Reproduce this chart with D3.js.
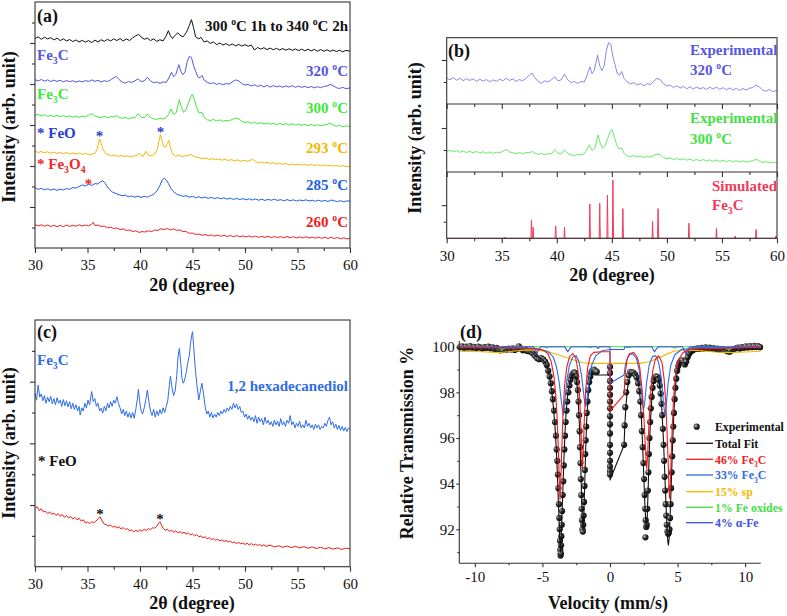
<!DOCTYPE html>
<html>
<head>
<meta charset="utf-8">
<script src="https://cdn.jsdelivr.net/npm/d3@7"></script>
<style>
  body { margin: 0; background: #fff; }
  svg { display: block; }
  text { font-family: "Liberation Serif", "Tinos", "Times New Roman", Times, "DejaVu Serif", serif; }
</style>
</head>
<body>
<div id="chart"></div>
<script>
// ---- XRD patterns, panel (a) units (stacked offsets), 2theta in degrees ----
var xrd340 = [[30,10.22],[30.3,10.3],[30.6,10.18],[30.9,10.28],[31.2,10.2],[31.5,10.26],[31.8,10.15],[32.1,10.24],[32.4,10.12],[32.7,10.2],[33.0,10.1],[33.3,10.17],[33.6,10.07],[33.9,10.15],[34.2,10.05],[34.5,10.13],[34.8,10.04],[35.1,10.12],[35.4,10.02],[35.7,10.14],[36.0,10.05],[36.3,10.16],[36.6,10.08],[36.9,10.18],[37.2,10.1],[37.5,10.2],[37.8,10.12],[38.1,10.22],[38.4,10.1],[38.7,10.2],[39.0,10.12],[39.3,10.25],[39.6,10.35],[39.85,10.42],[40.1,10.3],[40.4,10.18],[40.7,10.24],[41.0,10.12],[41.3,10.2],[41.6,10.08],[41.9,10.16],[42.2,10.1],[42.5,10.35],[42.7,10.6],[42.9,10.35],[43.1,10.22],[43.3,10.35],[43.6,10.5],[43.8,10.38],[44.1,10.3],[44.4,10.5],[44.7,10.85],[44.9,11.14],[45.1,10.75],[45.3,10.3],[45.6,10.2],[45.8,10.28],[46.1,10.05],[46.4,10.1],[46.7,9.98],[47.0,10.05],[47.3,9.92],[47.6,10.0],[47.9,9.9],[48.2,9.97],[48.5,9.88],[48.8,9.95],[49.1,9.86],[49.4,9.93],[49.7,9.85],[50.0,9.92],[50.3,9.84],[50.6,9.9],[50.9,9.66],[51.2,9.78],[51.5,9.7],[51.8,9.77],[52.1,9.68],[52.4,9.75],[52.7,9.67],[53.0,9.74],[53.3,9.66],[53.6,9.73],[53.9,9.65],[54.2,9.72],[54.5,9.64],[54.8,9.71],[55.1,9.63],[55.4,9.7],[55.7,9.62],[56.0,9.7],[56.3,9.61],[56.6,9.69],[56.9,9.6],[57.2,9.68],[57.5,9.6],[57.8,9.67],[58.1,9.59],[58.4,9.66],[58.7,9.58],[59.0,9.65],[59.3,9.57],[59.6,9.64],[60,9.6]];

var xrd320 = [[30,8.21],[30.3,8.15],[30.6,8.22],[30.9,8.14],[31.2,8.2],[31.5,8.12],[31.8,8.19],[32.1,8.13],[32.4,8.18],[32.7,8.1],[33.0,8.17],[33.3,8.11],[33.6,8.16],[33.9,8.09],[34.2,8.15],[34.5,8.1],[34.8,8.17],[35.1,8.12],[35.4,8.2],[35.7,8.13],[36.0,8.18],[36.3,8.1],[36.6,8.16],[36.9,8.12],[37.2,8.2],[37.5,8.3],[37.75,8.37],[38.0,8.22],[38.3,8.1],[38.6,8.04],[38.9,8.12],[39.2,8.08],[39.5,8.15],[39.8,8.25],[40.1,8.12],[40.4,8.15],[40.7,8.33],[41.0,8.15],[41.3,8.06],[41.6,8.1],[41.9,8.03],[42.2,8.1],[42.5,8.08],[42.75,8.3],[43.0,8.57],[43.2,8.35],[43.4,8.45],[43.7,8.94],[43.9,8.6],[44.1,8.45],[44.3,8.6],[44.5,9.1],[44.7,9.35],[44.9,9.3],[45.1,8.9],[45.3,8.62],[45.5,8.35],[45.7,8.3],[45.9,8.42],[46.1,8.2],[46.4,8.08],[46.7,8.02],[47.0,8.06],[47.3,7.98],[47.6,8.03],[47.9,7.96],[48.2,8.02],[48.5,8.0],[48.8,8.1],[49.1,8.2],[49.4,8.15],[49.7,8.02],[50.0,7.95],[50.3,7.98],[50.6,7.9],[50.9,7.96],[51.2,7.88],[51.5,7.94],[51.8,7.86],[52.1,7.93],[52.4,7.85],[52.7,7.92],[53.0,7.86],[53.3,7.9],[53.6,7.84],[53.9,7.91],[54.2,7.85],[54.5,7.92],[54.8,7.84],[55.1,7.9],[55.4,7.83],[55.7,7.89],[56.0,7.82],[56.3,7.88],[56.6,7.81],[56.9,7.87],[57.2,7.82],[57.5,7.88],[57.8,7.9],[58.1,7.98],[58.4,7.92],[58.7,7.82],[59.0,7.78],[59.3,7.84],[59.6,7.77],[60,7.81]];

var xrd300 = [[30,6.46],[30.3,6.52],[30.6,6.44],[30.9,6.5],[31.2,6.42],[31.5,6.48],[31.8,6.41],[32.1,6.47],[32.4,6.4],[32.7,6.46],[33.0,6.39],[33.3,6.45],[33.6,6.38],[33.9,6.44],[34.2,6.37],[34.5,6.43],[34.8,6.4],[35.1,6.47],[35.4,6.56],[35.7,6.44],[36.0,6.4],[36.3,6.36],[36.6,6.42],[36.9,6.35],[37.2,6.41],[37.5,6.4],[37.75,6.46],[38.0,6.38],[38.3,6.33],[38.6,6.37],[38.9,6.3],[39.2,6.36],[39.5,6.34],[39.8,6.55],[40.1,6.38],[40.4,6.35],[40.7,6.54],[41.0,6.36],[41.3,6.3],[41.6,6.27],[41.9,6.33],[42.2,6.29],[42.5,6.36],[42.75,6.55],[42.95,6.78],[43.2,6.52],[43.45,6.6],[43.75,7.24],[43.95,6.85],[44.15,6.62],[44.35,6.7],[44.6,7.05],[44.85,7.4],[45.0,7.51],[45.2,7.2],[45.4,6.85],[45.6,6.6],[45.9,6.62],[46.1,6.38],[46.4,6.25],[46.7,6.22],[47.0,6.27],[47.3,6.2],[47.6,6.25],[47.9,6.18],[48.2,6.22],[48.5,6.2],[48.8,6.28],[49.1,6.34],[49.4,6.3],[49.7,6.18],[50.0,6.12],[50.3,6.16],[50.6,6.08],[50.9,6.13],[51.2,6.06],[51.5,6.12],[51.8,6.05],[52.1,6.1],[52.4,6.03],[52.7,6.09],[53.0,6.02],[53.3,6.08],[53.6,6.01],[53.9,6.07],[54.2,6.0],[54.5,6.06],[54.8,5.99],[55.1,6.05],[55.4,5.98],[55.7,6.04],[56.0,5.97],[56.3,6.03],[56.6,5.96],[56.9,6.02],[57.2,5.96],[57.5,6.0],[57.8,6.02],[58.1,6.1],[58.4,6.0],[58.7,5.94],[59.0,5.98],[59.3,5.92],[59.6,5.96],[60,5.93]];

var xrd293 = [[30,4.72],[30.3,4.66],[30.6,4.71],[30.9,4.64],[31.2,4.69],[31.5,4.62],[31.8,4.68],[32.1,4.61],[32.4,4.67],[32.7,4.6],[33.0,4.66],[33.3,4.59],[33.6,4.64],[33.9,4.58],[34.2,4.63],[34.5,4.57],[34.8,4.62],[35.1,4.55],[35.4,4.58],[35.7,4.62],[35.9,4.8],[36.05,5.15],[36.15,5.32],[36.3,5.1],[36.45,4.85],[36.7,4.62],[37.0,4.55],[37.3,4.5],[37.6,4.54],[37.9,4.47],[38.2,4.52],[38.5,4.46],[38.8,4.5],[39.1,4.44],[39.4,4.49],[39.7,4.5],[39.9,4.63],[40.1,4.52],[40.3,4.47],[40.55,4.72],[40.8,4.52],[41.1,4.5],[41.4,4.58],[41.65,4.8],[41.8,5.2],[41.95,5.53],[42.1,5.25],[42.25,4.95],[42.45,4.92],[42.6,5.1],[42.75,5.25],[42.9,4.9],[43.1,4.6],[43.4,4.47],[43.7,4.54],[44.0,4.46],[44.3,4.5],[44.6,4.52],[44.85,4.57],[45.1,4.48],[45.4,4.43],[45.7,4.4],[46.0,4.35],[46.3,4.38],[46.6,4.32],[46.9,4.36],[47.2,4.3],[47.5,4.34],[47.8,4.28],[48.1,4.33],[48.4,4.27],[48.7,4.31],[49.0,4.25],[49.3,4.3],[49.6,4.24],[49.9,4.28],[50.2,4.23],[50.5,4.27],[50.7,4.33],[50.9,4.27],[51.2,4.16],[51.5,4.2],[51.8,4.14],[52.1,4.18],[52.4,4.12],[52.7,4.16],[53.0,4.1],[53.3,4.14],[53.6,4.08],[53.9,4.12],[54.2,4.06],[54.5,4.1],[54.8,4.05],[55.1,4.09],[55.4,4.04],[55.7,4.08],[56.0,4.03],[56.3,4.07],[56.6,4.02],[56.9,4.06],[57.2,4.01],[57.5,4.05],[57.8,4.0],[58.1,4.04],[58.4,3.99],[58.7,4.03],[59.0,3.98],[59.3,4.02],[59.6,3.97],[60,3.99]];

var xrd285 = [[30,2.93],[30.3,2.86],[30.6,2.91],[30.9,2.84],[31.2,2.89],[31.5,2.82],[31.8,2.88],[32.1,2.81],[32.4,2.87],[32.7,2.83],[33.0,2.9],[33.3,2.86],[33.6,2.95],[33.9,2.92],[34.2,3.0],[34.5,3.08],[34.8,3.02],[35.1,3.12],[35.4,3.05],[35.7,3.14],[36.0,3.12],[36.2,3.22],[36.45,3.28],[36.7,3.15],[36.9,2.98],[37.1,2.85],[37.4,2.72],[37.7,2.66],[38.0,2.6],[38.3,2.55],[38.6,2.58],[38.9,2.5],[39.2,2.54],[39.5,2.48],[39.8,2.53],[40.1,2.47],[40.4,2.52],[40.7,2.48],[41.0,2.55],[41.3,2.62],[41.6,2.78],[41.9,3.05],[42.1,3.3],[42.3,3.41],[42.5,3.32],[42.7,3.15],[42.95,2.9],[43.2,2.75],[43.5,2.63],[43.8,2.57],[44.1,2.52],[44.4,2.55],[44.7,2.48],[45.0,2.52],[45.3,2.45],[45.6,2.5],[45.9,2.44],[46.2,2.48],[46.5,2.42],[46.8,2.47],[47.1,2.41],[47.4,2.46],[47.7,2.4],[48.0,2.45],[48.3,2.38],[48.6,2.43],[48.9,2.37],[49.2,2.42],[49.5,2.36],[49.8,2.41],[50.1,2.35],[50.4,2.4],[50.7,2.34],[51.0,2.39],[51.3,2.33],[51.6,2.38],[51.9,2.32],[52.2,2.37],[52.5,2.33],[52.8,2.38],[53.1,2.32],[53.4,2.36],[53.7,2.3],[54.0,2.36],[54.3,2.31],[54.6,2.35],[54.9,2.29],[55.2,2.34],[55.5,2.3],[55.8,2.35],[56.1,2.29],[56.4,2.33],[56.7,2.28],[57.0,2.33],[57.3,2.28],[57.6,2.32],[57.9,2.27],[58.2,2.34],[58.5,2.3],[58.8,2.26],[59.1,2.31],[59.4,2.25],[59.7,2.3],[60,2.28]];

var xrd260 = [[30,1.14],[30.3,1.08],[30.6,1.13],[30.9,1.06],[31.2,1.12],[31.5,1.05],[31.8,1.11],[32.1,1.04],[32.4,1.1],[32.7,1.04],[33.0,1.12],[33.3,1.05],[33.6,1.11],[33.9,1.06],[34.2,1.13],[34.5,1.07],[34.8,1.12],[35.1,1.08],[35.4,1.16],[35.55,1.25],[35.7,1.1],[36.0,1.12],[36.3,1.05],[36.6,1.07],[36.9,0.99],[37.2,1.02],[37.5,0.95],[37.8,0.98],[38.1,0.9],[38.4,0.93],[38.7,0.85],[39.0,0.88],[39.3,0.8],[39.6,0.84],[39.9,0.76],[40.2,0.8],[40.5,0.78],[40.8,0.84],[41.1,0.8],[41.4,0.88],[41.7,0.86],[42.0,0.94],[42.3,0.9],[42.6,0.95],[42.9,0.88],[43.2,0.93],[43.5,0.86],[43.8,0.88],[44.1,0.8],[44.4,0.8],[44.7,0.72],[45.0,0.73],[45.3,0.66],[45.6,0.68],[45.9,0.62],[46.2,0.66],[46.5,0.6],[46.8,0.64],[47.1,0.58],[47.4,0.63],[47.7,0.57],[48.0,0.62],[48.3,0.56],[48.6,0.61],[48.9,0.55],[49.2,0.6],[49.5,0.55],[49.8,0.59],[50.1,0.54],[50.4,0.59],[50.7,0.53],[51.0,0.58],[51.3,0.52],[51.6,0.57],[51.9,0.52],[52.2,0.57],[52.5,0.51],[52.8,0.56],[53.1,0.51],[53.4,0.55],[53.7,0.5],[54.0,0.56],[54.3,0.5],[54.6,0.55],[54.9,0.49],[55.2,0.54],[55.5,0.49],[55.8,0.55],[56.1,0.49],[56.4,0.53],[56.7,0.48],[57.0,0.53],[57.3,0.47],[57.6,0.52],[57.9,0.47],[58.2,0.52],[58.5,0.46],[58.8,0.51],[59.1,0.45],[59.4,0.5],[59.7,0.44],[60,0.47]];

// simulated Fe3C reflections: [2theta, relative intensity]
var simFe3C = [[35.3,2],[37.7,31],[37.85,19],[39.9,21],[40.7,19],[43.0,59],[43.9,60],[44.6,74],[45.1,100],[46.0,51],[48.7,29],[49.2,51],[52.0,26],[54.5,17],[56.2,4],[58.1,15],[59.9,4]];

// panel (c): 1,2 hexadecanediol (blue) and reference (red)
var xrdHexa = [[30,5.62],[30.15,5.4],[30.3,5.89],[30.45,5.5],[30.6,5.6],[30.75,5.38],[30.9,5.55],[31.05,5.3],[31.2,5.5],[31.35,5.35],[31.5,5.52],[31.65,5.28],[31.8,5.45],[31.95,5.25],[32.1,5.48],[32.25,5.3],[32.4,5.4],[32.55,5.2],[32.7,5.42],[32.85,5.22],[33.0,5.38],[33.15,5.18],[33.3,5.35],[33.45,5.12],[33.6,5.3],[33.75,5.1],[33.9,5.25],[34.05,5.05],[34.2,5.2],[34.3,4.92],[34.45,5.15],[34.6,5.05],[34.75,5.3],[34.9,5.15],[35.05,5.4],[35.2,5.25],[35.4,5.68],[35.55,5.35],[35.7,5.45],[35.85,5.2],[36.0,5.3],[36.15,5.05],[36.3,5.14],[36.45,4.98],[36.6,5.2],[36.75,5.05],[36.9,5.3],[37.05,5.15],[37.2,5.35],[37.35,5.2],[37.5,5.4],[37.65,5.3],[37.8,5.51],[37.95,5.3],[38.1,5.15],[38.25,4.95],[38.4,5.1],[38.55,4.9],[38.7,5.05],[38.85,4.85],[39.0,5.0],[39.15,4.82],[39.3,5.0],[39.45,4.81],[39.6,5.1],[39.75,5.45],[39.85,5.75],[39.95,5.4],[40.1,5.05],[40.25,4.95],[40.4,5.15],[40.55,5.4],[40.7,5.73],[40.85,5.35],[41.0,5.05],[41.15,4.9],[41.3,5.1],[41.45,4.85],[41.6,5.05],[41.75,4.9],[41.9,5.1],[42.05,4.95],[42.2,5.15],[42.35,5.0],[42.5,5.19],[42.65,5.4],[42.8,5.9],[42.9,6.18],[43.05,5.8],[43.2,5.55],[43.35,5.7],[43.5,6.2],[43.62,6.8],[43.75,7.08],[43.88,6.6],[44.0,6.1],[44.12,5.95],[44.25,6.05],[44.4,6.3],[44.55,6.6],[44.7,6.86],[44.8,7.2],[44.9,7.45],[45.0,7.62],[45.1,7.2],[45.2,6.7],[45.3,6.3],[45.45,5.8],[45.6,5.41],[45.75,5.7],[45.9,5.95],[46.05,5.6],[46.2,5.2],[46.35,4.95],[46.5,5.05],[46.65,4.85],[46.8,5.0],[46.95,4.82],[47.1,4.95],[47.25,4.85],[47.4,5.0],[47.55,4.9],[47.7,5.05],[47.85,4.95],[48.0,5.1],[48.15,5.0],[48.3,5.15],[48.45,5.05],[48.6,5.2],[48.75,5.1],[48.9,5.3],[49.05,5.15],[49.2,5.28],[49.35,5.1],[49.5,5.2],[49.65,5.0],[49.8,5.05],[49.95,4.85],[50.1,4.95],[50.25,4.78],[50.4,4.9],[50.55,4.75],[50.7,4.85],[50.85,4.7],[51.0,4.9],[51.15,4.65],[51.3,4.85],[51.45,4.7],[51.6,4.8],[51.75,4.6],[51.9,4.85],[52.05,4.65],[52.2,4.75],[52.35,4.6],[52.5,4.7],[52.65,4.55],[52.8,4.75],[52.95,4.6],[53.1,4.72],[53.25,4.55],[53.4,4.8],[53.55,4.6],[53.7,4.7],[53.85,4.55],[54.0,4.75],[54.15,4.65],[54.3,4.9],[54.45,4.6],[54.6,4.7],[54.75,4.5],[54.9,4.65],[55.05,4.55],[55.2,4.72],[55.35,4.5],[55.5,4.6],[55.65,4.5],[55.8,4.75],[55.95,4.55],[56.1,4.65],[56.25,4.5],[56.4,4.6],[56.55,4.45],[56.7,4.62],[56.85,4.5],[57.0,4.6],[57.15,4.45],[57.3,4.55],[57.45,4.5],[57.6,4.65],[57.75,4.55],[57.9,4.75],[58.05,4.85],[58.2,4.6],[58.35,4.7],[58.5,4.5],[58.65,4.62],[58.8,4.45],[58.95,4.58],[59.1,4.42],[59.25,4.55],[59.4,4.4],[59.55,4.52],[59.7,4.38],[59.85,4.5],[60,4.45]];

var xrdRef = [[30,1.89],[30.2,1.95],[30.4,1.82],[30.6,1.88],[30.8,1.78],[31.0,1.8],[31.2,1.72],[31.4,1.78],[31.6,1.7],[31.8,1.74],[32.0,1.66],[32.2,1.72],[32.4,1.64],[32.6,1.69],[32.8,1.6],[33.0,1.66],[33.2,1.58],[33.4,1.63],[33.6,1.55],[33.8,1.6],[34.0,1.52],[34.2,1.57],[34.4,1.48],[34.6,1.52],[34.8,1.42],[35.0,1.45],[35.2,1.4],[35.4,1.46],[35.6,1.42],[35.8,1.48],[36.0,1.55],[36.2,1.62],[36.4,1.48],[36.6,1.38],[36.8,1.36],[37.0,1.32],[37.2,1.35],[37.4,1.28],[37.6,1.32],[37.8,1.25],[38.0,1.3],[38.2,1.22],[38.4,1.27],[38.6,1.2],[38.8,1.24],[39.0,1.16],[39.2,1.2],[39.4,1.13],[39.6,1.18],[39.8,1.14],[40.0,1.2],[40.2,1.15],[40.4,1.22],[40.6,1.17],[40.8,1.24],[41.0,1.2],[41.2,1.26],[41.4,1.25],[41.6,1.32],[41.8,1.42],[41.9,1.46],[42.05,1.35],[42.2,1.25],[42.4,1.18],[42.6,1.22],[42.8,1.15],[43.0,1.18],[43.2,1.12],[43.4,1.16],[43.6,1.1],[43.8,1.14],[44.0,1.08],[44.2,1.12],[44.4,1.06],[44.6,1.1],[44.8,1.03],[45.0,1.06],[45.2,1.0],[45.4,1.04],[45.6,0.97],[45.8,1.0],[46.0,0.94],[46.2,0.97],[46.4,0.91],[46.6,0.94],[46.8,0.88],[47.0,0.91],[47.2,0.86],[47.4,0.89],[47.6,0.84],[47.8,0.87],[48.0,0.82],[48.2,0.85],[48.4,0.8],[48.6,0.83],[48.8,0.78],[49.0,0.8],[49.2,0.75],[49.4,0.79],[49.6,0.74],[49.8,0.77],[50.0,0.72],[50.2,0.76],[50.4,0.71],[50.6,0.75],[50.8,0.7],[51.0,0.73],[51.2,0.69],[51.4,0.72],[51.6,0.67],[51.8,0.71],[52.0,0.66],[52.4,0.7],[52.8,0.64],[53.2,0.68],[53.6,0.63],[54.0,0.67],[54.4,0.62],[54.8,0.66],[55.2,0.61],[55.6,0.65],[56.0,0.6],[56.4,0.64],[56.8,0.59],[57.2,0.63],[57.6,0.58],[58.0,0.62],[58.4,0.57],[58.8,0.61],[59.2,0.56],[59.6,0.6],[60,0.58]];

// ---- Mossbauer, panel (d): [velocity mm/s, relative transmission %] ----
var mossExp = [[-11.1,99.98],[-10.95,100.02],[-10.8,99.95],[-10.65,100.0],[-10.5,99.97],[-10.35,100.03],[-10.2,99.96],[-10.05,99.99],[-9.9,99.94],[-9.75,100.01],[-9.6,99.96],[-9.45,99.92],[-9.3,99.98],[-9.15,99.95],[-9.0,100.0],[-8.85,99.93],[-8.7,99.97],[-8.55,99.9],[-8.4,99.95],[-8.25,99.88],[-8.1,99.84],[-7.95,99.86],[-7.8,99.9],[-7.65,99.87],[-7.5,99.92],[-7.35,99.88],[-7.2,99.93],[-7.05,99.86],[-6.9,99.9],[-6.75,100.02],[-6.6,99.92],[-6.45,99.85],[-6.3,99.88],[-6.15,99.82],[-6.0,99.8],[-5.85,99.78],[-5.7,99.7],[-5.55,99.6],[-5.4,99.5],[-5.25,99.45],[-5.1,99.5],[-4.95,99.45],[-4.8,99.35],[-4.68,99.2],[-4.57,98.95],[-4.47,98.7],[-4.38,98.4],[-4.3,98.05],[-4.22,97.7],[-4.14,97.2],[-4.07,96.7],[-4.0,96.1],[-3.95,95.5],[-3.9,95.0],[-3.86,94.4],[-3.82,93.8],[-3.78,93.1],[-3.75,92.5],[-3.72,92.0],[-3.7,91.5],[-3.68,91.1],[-3.66,90.85],[-3.64,90.95],[-3.62,91.3],[-3.6,91.7],[-3.57,92.2],[-3.54,92.8],[-3.5,93.5],[-3.46,94.1],[-3.42,94.8],[-3.38,95.5],[-3.33,96.1],[-3.28,96.7],[-3.22,97.2],[-3.16,97.6],[-3.08,98.0],[-3.0,98.3],[-2.92,98.55],[-2.84,98.72],[-2.75,98.82],[-2.66,98.88],[-2.58,98.85],[-2.5,98.7],[-2.44,98.45],[-2.38,98.1],[-2.33,97.6],[-2.29,97.0],[-2.25,96.3],[-2.22,95.6],[-2.19,94.9],[-2.16,94.2],[-2.13,93.5],[-2.1,92.9],[-2.07,92.4],[-2.04,92.0],[-2.01,91.9],[-1.98,92.2],[-1.95,92.6],[-1.92,93.2],[-1.89,93.9],[-1.86,94.6],[-1.83,95.3],[-1.8,95.9],[-1.76,96.5],[-1.72,97.1],[-1.67,97.6],[-1.61,98.1],[-1.54,98.45],[-1.46,98.7],[-1.38,98.88],[-1.29,98.98],[-1.2,99.0],[-1.1,98.95],[-0.98,98.9],[0,99.12],[0,98.85],[0,98.5],[0,98.2],[0,97.9],[0,97.6],[0,97.3],[0,96.95],[0,96.6],[0,96.2],[0,95.7],[0,95.35],[0,95.0],[0,94.75],[0,94.55],[0,94.4],[1.04,95.7],[1.08,96.55],[1.13,97.35],[1.2,98.0],[1.28,98.45],[1.38,98.75],[1.5,98.9],[1.62,98.88],[1.74,98.85],[1.86,98.78],[1.98,98.65],[2.08,98.4],[2.16,98.05],[2.24,97.6],[2.3,97.0],[2.36,96.3],[2.42,95.6],[2.47,94.9],[2.52,94.2],[2.56,93.5],[2.6,92.9],[2.62,91.65],[2.64,92.4],[2.68,92.1],[2.72,92.2],[2.76,92.9],[2.8,93.7],[2.84,94.5],[2.88,95.3],[2.92,96.0],[2.97,96.7],[3.02,97.3],[3.08,97.8],[3.15,98.2],[3.22,98.5],[3.3,98.65],[3.4,98.7],[3.5,98.68],[3.6,98.55],[3.68,98.3],[3.75,97.95],[3.81,97.5],[3.86,97.0],[3.91,96.4],[3.96,95.7],[4.0,95.0],[4.04,94.3],[4.08,93.7],[4.12,93.1],[4.16,92.6],[4.2,92.2],[4.25,91.9],[4.3,91.8],[4.35,91.85],[4.4,92.0],[4.44,92.5],[4.48,93.1],[4.52,93.8],[4.56,94.5],[4.6,95.2],[4.64,95.9],[4.68,96.5],[4.73,97.1],[4.78,97.7],[4.84,98.2],[4.9,98.6],[4.97,98.95],[5.05,99.15],[5.14,99.3],[5.24,99.38],[5.34,99.4],[5.44,99.3],[5.54,99.22],[5.64,99.35],[5.75,99.55],[5.87,99.7],[6.0,99.8],[6.15,99.86],[6.3,99.9],[6.45,99.93],[6.6,99.9],[6.75,99.95],[6.9,99.92],[7.05,99.97],[7.2,99.93],[7.35,99.96],[7.5,99.9],[7.65,99.94],[7.8,99.9],[7.95,99.92],[8.1,99.88],[8.25,99.9],[8.4,99.86],[8.55,99.84],[8.7,99.8],[8.85,99.78],[9.0,99.84],[9.15,99.9],[9.3,99.93],[9.45,99.96],[9.6,99.92],[9.75,99.98],[9.9,99.95],[10.05,100.02],[10.2,99.97],[10.35,100.03],[10.5,99.98],[10.65,100.04],[10.8,99.99],[10.95,100.03],[11.1,99.98]];

var mossTotal = [[-11.15,99.97],[-9,99.95],[-8.3,99.92],[-8.0,99.86],[-7.7,99.92],[-6.5,99.9],[-6.0,99.85],[-5.7,99.72],[-5.5,99.58],[-5.3,99.55],[-5.0,99.45],[-4.8,99.3],[-4.6,99.0],[-4.45,98.6],[-4.3,98.0],[-4.18,97.3],[-4.07,96.5],[-3.97,95.5],[-3.88,94.2],[-3.8,92.9],[-3.74,91.9],[-3.68,91.0],[-3.62,91.5],[-3.56,92.5],[-3.5,93.5],[-3.42,94.9],[-3.34,96.1],[-3.24,97.2],[-3.12,97.95],[-2.98,98.45],[-2.82,98.72],[-2.66,98.82],[-2.52,98.65],[-2.42,98.2],[-2.34,97.5],[-2.26,96.5],[-2.18,95.1],[-2.11,93.6],[-2.04,92.2],[-2.0,91.95],[-1.94,92.6],[-1.87,94.0],[-1.8,95.5],[-1.72,96.8],[-1.62,97.8],[-1.5,98.45],[-1.36,98.8],[-1.22,98.82],[-1.12,98.76],[0,98.76],[0,94.16],[1.04,95.68],[1.1,96.6],[1.18,97.4],[1.28,98.1],[1.4,98.55],[1.55,98.8],[1.75,98.88],[1.95,98.72],[2.1,98.4],[2.22,97.8],[2.32,96.9],[2.42,95.6],[2.5,94.3],[2.58,93.1],[2.65,92.3],[2.7,92.1],[2.76,92.6],[2.83,93.9],[2.9,95.3],[2.98,96.6],[3.08,97.6],[3.2,98.3],[3.35,98.65],[3.5,98.7],[3.62,98.5],[3.74,98.0],[3.84,97.2],[3.94,96.1],[4.03,94.8],[4.12,93.4],[4.2,92.3],[4.27,91.5],[4.32,91.3],[4.38,91.6],[4.45,92.6],[4.52,93.8],[4.6,95.2],[4.68,96.5],[4.78,97.7],[4.9,98.6],[5.05,99.1],[5.2,99.3],[5.4,99.32],[5.55,99.2],[5.7,99.4],[5.9,99.65],[6.2,99.82],[6.8,99.92],[8.3,99.9],[8.75,99.82],[9.2,99.92],[11.15,99.96]];

var mossFe3C46 = [[-11.15,99.97],[-6,99.93],[-5.0,99.86],[-4.6,99.7],[-4.35,99.35],[-4.15,98.7],[-4.0,97.8],[-3.9,96.7],[-3.82,95.5],[-3.76,94.3],[-3.7,93.3],[-3.64,94.1],[-3.57,95.5],[-3.48,97.0],[-3.36,98.3],[-3.2,99.1],[-3.0,99.55],[-2.75,99.7],[-2.55,99.55],[-2.38,99.0],[-2.26,98.0],[-2.16,96.5],[-2.08,95.2],[-2.04,94.7],[-1.98,95.4],[-1.9,96.8],[-1.8,98.1],[-1.65,99.1],[-1.45,99.6],[-1.2,99.75],[-0.6,99.78],[0,99.78],[0,97.18],[1.04,97.9],[1.12,98.8],[1.25,99.4],[1.45,99.7],[1.75,99.75],[2.0,99.55],[2.2,99.1],[2.36,98.2],[2.5,97.0],[2.6,95.8],[2.68,94.9],[2.72,94.67],[2.78,95.2],[2.88,96.6],[3.0,97.9],[3.15,98.9],[3.35,99.45],[3.6,99.6],[3.85,99.3],[4.0,98.6],[4.12,97.6],[4.22,96.3],[4.3,95.0],[4.36,93.9],[4.4,93.36],[4.45,93.8],[4.52,95.0],[4.6,96.4],[4.7,97.7],[4.85,98.8],[5.05,99.4],[5.4,99.75],[6,99.9],[11.15,99.97]];

var mossFe3C33 = [[-11.15,99.98],[-5.5,99.93],[-4.6,99.8],[-4.2,99.55],[-3.95,99.1],[-3.75,98.4],[-3.6,97.6],[-3.46,97.0],[-3.34,97.6],[-3.2,98.5],[-3.0,99.2],[-2.75,99.55],[-2.5,99.6],[-2.3,99.35],[-2.12,98.8],[-1.98,98.1],[-1.88,97.6],[-1.8,97.37],[-1.7,97.7],[-1.55,98.5],[-1.35,99.2],[-1.05,99.6],[-0.6,99.82],[0,99.88],[0,98.4],[1.04,98.76],[1.15,99.25],[1.35,99.6],[1.65,99.7],[1.95,99.5],[2.15,99.0],[2.3,98.2],[2.4,97.5],[2.47,97.23],[2.56,97.5],[2.7,98.4],[2.9,99.2],[3.15,99.58],[3.4,99.6],[3.6,99.3],[3.78,98.7],[3.92,97.8],[4.0,97.3],[4.07,97.0],[4.16,97.4],[4.3,98.4],[4.5,99.2],[4.8,99.65],[5.3,99.88],[6.5,99.96],[11.15,99.98]];

var mossSp = [[-11.15,99.8],[-9.5,99.78],[-8.2,99.74],[-7.2,99.8],[-6.2,99.86],[-5.2,99.84],[-4.4,99.75],[-3.6,99.6],[-3.0,99.48],[-2.5,99.38],[-2.0,99.3],[-1.4,99.27],[0,99.27],[1.04,99.27],[2.2,99.27],[2.8,99.33],[3.4,99.45],[4.0,99.62],[4.7,99.8],[5.6,99.86],[6.6,99.83],[7.8,99.77],[8.8,99.74],[10,99.77],[11.15,99.8]];

var mossOxides = [[-11.15,100],[-8.4,100],[-8.1,99.9],[-8.0,99.84],[-7.9,99.9],[-7.6,100],[-4.9,100],[-4.7,99.94],[-4.5,100],[-1.6,100],[-1.45,99.95],[-1.3,100],[0,100],[1.04,100],[1.4,99.96],[1.6,100],[4.6,100],[4.8,99.94],[5.0,100],[8.4,100],[8.7,99.9],[8.8,99.84],[8.9,99.9],[9.2,100],[11.15,100]];

var mossAlphaFe = [[-11.15,100],[-5.7,100],[-5.5,99.85],[-5.4,99.7],[-5.3,99.85],[-5.1,100],[-3.35,100],[-3.2,99.85],[-3.12,99.78],[-3.02,99.88],[-2.85,100],[-1.0,100],[-0.88,99.92],[-0.76,100],[0,100],[0,99.88],[1.04,99.88],[1.1,100],[3.1,100],[3.22,99.85],[3.3,99.78],[3.4,99.88],[3.6,100],[5.35,100],[5.5,99.85],[5.6,99.68],[5.72,99.85],[5.9,100],[11.15,100]];

// ticks
var xrdMajor = [30, 35, 40, 45, 50, 55, 60];
var xrdMinor = [32.5, 37.5, 42.5, 47.5, 52.5, 57.5];
var velMajor = [-10, -5, 0, 5, 10];
var velMinor = [-7.5, -2.5, 2.5, 7.5];
var transMajor = [92, 94, 96, 98, 100];
var transMinor = [91, 93, 95, 97, 99];

var axisColor = "#333";
var serif = '"Liberation Serif", "Tinos", "Times New Roman", Times, "DejaVu Serif", serif';

var svg = d3.select("#chart").append("svg")
  .attr("width", 787)
  .attr("height", 616)
  .style("font-family", serif);

var defs = svg.append("defs");
var ball = defs.append("radialGradient").attr("id", "ball")
  .attr("cx", "35%").attr("cy", "35%").attr("r", "70%");
ball.append("stop").attr("offset", "0%").attr("stop-color", "#c8c8c8");
ball.append("stop").attr("offset", "45%").attr("stop-color", "#3a3a3a");
ball.append("stop").attr("offset", "100%").attr("stop-color", "#000");

// text with sub/superscripts: parts are strings or [str, "sub"|"sup"]
function richText(x, y, parts, color, size, anchor, weight) {
  var t = svg.append("text")
    .attr("x", x).attr("y", y)
    .attr("fill", color)
    .attr("font-size", size)
    .attr("font-weight", weight || "bold")
    .attr("text-anchor", anchor || "start")
    .style("font-family", serif);
  var shift = 0;
  parts.forEach(function (p) {
    var s = typeof p === "string" ? p : p[0];
    var mode = typeof p === "string" ? null : p[1];
    var target = mode === "sup" ? -0.42 * size : mode === "sub" ? 0.28 * size : 0;
    var ts = t.append("tspan").attr("dy", target - shift).text(s);
    if (mode) ts.attr("font-size", size * 0.65);
    shift = target;
  });
  return t;
}

function styleAxis(g) {
  g.attr("font-family", serif).attr("font-size", 15);
  g.selectAll("line").attr("stroke", axisColor).attr("stroke-width", 1.1);
  g.selectAll("path").attr("stroke", axisColor);
  g.selectAll("text").attr("fill", "#111").style("font-family", serif);
}

function bottomTicks(scale, y, major, minor, labels, pad, majorLen, minorLen) {
  var gMin = svg.append("g").attr("transform", "translate(0," + y + ")")
    .call(d3.axisBottom(scale).tickValues(minor).tickSize(minorLen || 3).tickFormat(""));
  gMin.select(".domain").remove();
  styleAxis(gMin);
  var gMaj = svg.append("g").attr("transform", "translate(0," + y + ")")
    .call(d3.axisBottom(scale).tickValues(major).tickSize(majorLen || 5).tickPadding(pad || 6)
      .tickFormat(labels ? function (d) { return String(d); } : ""));
  gMaj.select(".domain").remove();
  styleAxis(gMaj);
}

function leftTicks(scale, x, major, minor, labels, pad, majorLen, minorLen) {
  var gMin = svg.append("g").attr("transform", "translate(" + x + ",0)")
    .call(d3.axisLeft(scale).tickValues(minor).tickSize(minorLen || 3).tickFormat(""));
  gMin.select(".domain").remove();
  styleAxis(gMin);
  var gMaj = svg.append("g").attr("transform", "translate(" + x + ",0)")
    .call(d3.axisLeft(scale).tickValues(major).tickSize(majorLen || 5).tickPadding(pad || 3)
      .tickFormat(labels ? function (d) { return String(d); } : ""));
  gMaj.select(".domain").remove();
  styleAxis(gMaj);
}

function frame(l, t, r, b) {
  svg.append("rect").attr("x", l).attr("y", t).attr("width", r - l).attr("height", b - t)
    .attr("fill", "none").attr("stroke", axisColor).attr("stroke-width", 1.1);
}

function drawLine(data, x, y, color, width) {
  svg.append("path").datum(data)
    .attr("fill", "none").attr("stroke", color)
    .attr("stroke-width", width || 1).attr("stroke-linejoin", "round")
    .attr("d", d3.line().x(function (d) { return x(d[0]); }).y(function (d) { return y(d[1]); }));
}

function yTitle(x, y, label) {
  svg.append("text").attr("transform", "translate(" + x + "," + y + ") rotate(-90)")
    .attr("text-anchor", "middle").attr("font-size", 18).attr("font-weight", "bold")
    .style("font-family", serif)
    .attr("fill", "#111").text(label);
}
function xTitle(x, y, label) {
  svg.append("text").attr("x", x).attr("y", y)
    .attr("text-anchor", "middle").attr("font-size", 18).attr("font-weight", "bold")
    .style("font-family", serif)
    .attr("fill", "#111").text(label);
}

// =================== panel (a) ===================
var xa = d3.scaleLinear().domain([30, 60]).range([35, 350]);
var ya = d3.scaleLinear().domain([0, 12]).range([248, 2]);

drawLine(xrd260, xa, ya, "#f02020");
drawLine(xrd285, xa, ya, "#2060e0");
drawLine(xrd293, xa, ya, "#f2b705");
drawLine(xrd300, xa, ya, "#3ee83e");
drawLine(xrd320, xa, ya, "#5656e4");
drawLine(xrd340, xa, ya, "#111");

frame(35, 2, 350, 248);
bottomTicks(xa, 248, xrdMajor, xrdMinor, true, 6);
leftTicks(ya, 35, [2, 4, 6, 8, 10], [1, 3, 5, 7, 9, 11], false);

richText(37, 22, ["(a)"], "#111", 18);
richText(348, 31, ["300 ", ["o", "sup"], "C 1h to 340 ", ["o", "sup"], "C 2h"], "#111", 15, "end");
richText(37, 60, ["Fe", ["3", "sub"], "C"], "#5656e4", 15);
richText(348, 76, ["320 ", ["o", "sup"], "C"], "#5656e4", 15, "end");
richText(37, 99, ["Fe", ["3", "sub"], "C"], "#3ee83e", 15);
richText(348, 113, ["300 ", ["o", "sup"], "C"], "#3ee83e", 15, "end");
richText(37, 138, ["* FeO"], "#2a3ccc", 15);
richText(348, 153, ["293 ", ["o", "sup"], "C"], "#f2b705", 15, "end");
richText(37, 169, ["* Fe", ["3", "sub"], "O", ["4", "sub"]], "#f02828", 15);
richText(348, 190, ["285 ", ["o", "sup"], "C"], "#2060e0", 15, "end");
richText(348, 227, ["260 ", ["o", "sup"], "C"], "#f02020", 15, "end");
richText(xa(36.15), ya(5.32) + 2, ["*"], "#2a3ccc", 15, "middle");
richText(xa(41.95), ya(5.53) + 2, ["*"], "#2a3ccc", 15, "middle");
richText(xa(35.1), ya(3.12) + 5, ["*"], "#f02828", 15, "middle");

yTitle(15, 127, "Intensity (arb. unit)");
xTitle(192, 291, "2\u03b8 (degree)");

// =================== panel (b) ===================
var xb = d3.scaleLinear().domain([30, 60]).range([446.7, 777]);
var yb1 = d3.scaleLinear().domain([7.37, 9.51]).range([104, 37.7]);
var yb2 = d3.scaleLinear().domain([5.49, 8.71]).range([172, 104]);
var yb3 = d3.scaleLinear().domain([0, 113.7]).range([238.3, 172]);

drawLine(xrd320, xb, yb1, "#7c7ce6", 0.9);
drawLine(xrd300, xb, yb2, "#55e855", 0.9);
svg.append("g").selectAll("path").data(simFe3C).enter().append("path")
  .attr("fill", "none").attr("stroke", "#f03a5a").attr("stroke-width", 1)
  .attr("d", function (d) {
    return d3.line()([[xb(d[0] - 0.05), yb3(0)], [xb(d[0]), yb3(d[1])], [xb(d[0] + 0.05), yb3(0)]]);
  });
svg.append("line").attr("x1", 446.7).attr("x2", 777).attr("y1", yb3(0)).attr("y2", yb3(0))
  .attr("stroke", "#f03a5a").attr("stroke-width", 0.8);

frame(446.7, 37.7, 777, 238.3);
svg.append("line").attr("x1", 446.7).attr("x2", 777).attr("y1", 104).attr("y2", 104).attr("stroke", axisColor).attr("stroke-width", 1.1);
svg.append("line").attr("x1", 446.7).attr("x2", 777).attr("y1", 172).attr("y2", 172).attr("stroke", axisColor).attr("stroke-width", 1.1);
bottomTicks(xb, 104, xrdMajor, xrdMinor, false);
bottomTicks(xb, 172, xrdMajor, xrdMinor, false);
bottomTicks(xb, 238.3, xrdMajor, xrdMinor, true, 7);
var tb1 = d3.scaleLinear().domain([0, 3]).range([104, 38]);
var tb2 = d3.scaleLinear().domain([0, 3]).range([172, 106]);
var tb3 = d3.scaleLinear().domain([0, 4]).range([238.3, 172]);
leftTicks(tb1, 446.7, [2], [1], false);
leftTicks(tb2, 446.7, [2], [1], false);
leftTicks(tb3, 446.7, [2], [1], false);

richText(448, 57, ["(b)"], "#111", 18);
richText(690, 55, ["Experimental"], "#5656e4", 15);
richText(690, 75, ["320 ", ["o", "sup"], "C"], "#5656e4", 15);
richText(690, 123, ["Experimental"], "#44e044", 15);
richText(690, 144, ["300 ", ["o", "sup"], "C"], "#44e044", 15);
richText(712, 191, ["Simulated"], "#f03a5a", 15);
richText(712, 210, ["Fe", ["3", "sub"], "C"], "#f03a5a", 15);

yTitle(421, 138, "Intensity (arb. unit)");
xTitle(612, 281, "2\u03b8 (degree)");

// =================== panel (c) ===================
var xc = d3.scaleLinear().domain([30, 60]).range([35, 350]);
var yc = d3.scaleLinear().domain([0, 8]).range([566.7, 320]);

drawLine(xrdRef, xc, yc, "#f01818");
drawLine(xrdHexa, xc, yc, "#2f6de8");

frame(35, 320, 350, 566.7);
bottomTicks(xc, 566.7, xrdMajor, xrdMinor, true, 6.5);
leftTicks(yc, 35, [2, 4, 6], [1, 3, 5, 7], false);

richText(37, 338, ["(c)"], "#111", 18);
richText(37, 365, ["Fe", ["3", "sub"], "C"], "#2f6de8", 15);
richText(348, 391, ["1,2 hexadecanediol"], "#2f6de8", 15, "end");
richText(38, 466, ["* FeO"], "#111", 15);
richText(xc(36.2), yc(1.62) + 2, ["*"], "#111", 15, "middle");
richText(xc(41.9), yc(1.46) + 2.5, ["*"], "#111", 15, "middle");

yTitle(15, 443, "Intensity (arb. unit)");
xTitle(192, 609, "2\u03b8 (degree)");

// =================== panel (d) ===================
var xd = d3.scaleLinear().domain([-11.15, 11.15]).range([459.3, 760.7]);
var yd = d3.scaleLinear().domain([90.51, 100.25]).range([563.3, 341]);

svg.append("g").selectAll("circle").data(mossExp).enter().append("circle")
  .attr("cx", function (d) { return xd(d[0]); })
  .attr("cy", function (d) { return yd(d[1]); })
  .attr("r", 3.1)
  .attr("fill", "url(#ball)");

drawLine(mossTotal, xd, yd, "#111", 1.1);
drawLine(mossSp, xd, yd, "#f5b800", 1.1);
drawLine(mossOxides, xd, yd, "#44dd44", 1.1);
drawLine(mossAlphaFe, xd, yd, "#3c50e0", 1.1);
drawLine(mossFe3C33, xd, yd, "#2f6ae8", 1.1);
drawLine(mossFe3C46, xd, yd, "#f01c1c", 1.1);

svg.append("line").attr("x1", 459.3).attr("x2", 459.3).attr("y1", 341).attr("y2", 563.3).attr("stroke", axisColor).attr("stroke-width", 1.1);
svg.append("line").attr("x1", 459.3).attr("x2", 760.7).attr("y1", 563.3).attr("y2", 563.3).attr("stroke", axisColor).attr("stroke-width", 1.1);
bottomTicks(xd, 563.3, velMajor, velMinor, true, 4, 4, 2);
leftTicks(yd, 459.3, transMajor, transMinor, true, 1.5, 3, 2);

richText(460, 338, ["(d)"], "#111", 18);

// legend
var legendRows = [
  { y: 443.3, color: "#111", parts: ["Total Fit"] },
  { y: 459.3, color: "#f01c1c", parts: ["46% Fe", ["3", "sub"], "C"] },
  { y: 475, color: "#2f6ae8", parts: ["33% Fe", ["3", "sub"], "C"] },
  { y: 491.7, color: "#f5b800", parts: ["15% sp"] },
  { y: 507.3, color: "#44dd44", parts: ["1% Fe oxides"] },
  { y: 522.7, color: "#3c50e0", parts: ["4% \u03b1-Fe"] }
];
svg.append("circle").attr("cx", 696.7).attr("cy", 426.7).attr("r", 3.1).attr("fill", "url(#ball)");
richText(715, 431, ["Experimental"], "#111", 11.8);
legendRows.forEach(function (r) {
  svg.append("line").attr("x1", 686).attr("x2", 713).attr("y1", r.y).attr("y2", r.y)
    .attr("stroke", r.color).attr("stroke-width", 1.3);
  richText(715, r.y + 4.2, r.parts, r.color, 11.8);
});

yTitle(413, 443, "Relative Transmission %");
xTitle(608, 609, "Velocity (mm/s)");
</script>
</body>
</html>
